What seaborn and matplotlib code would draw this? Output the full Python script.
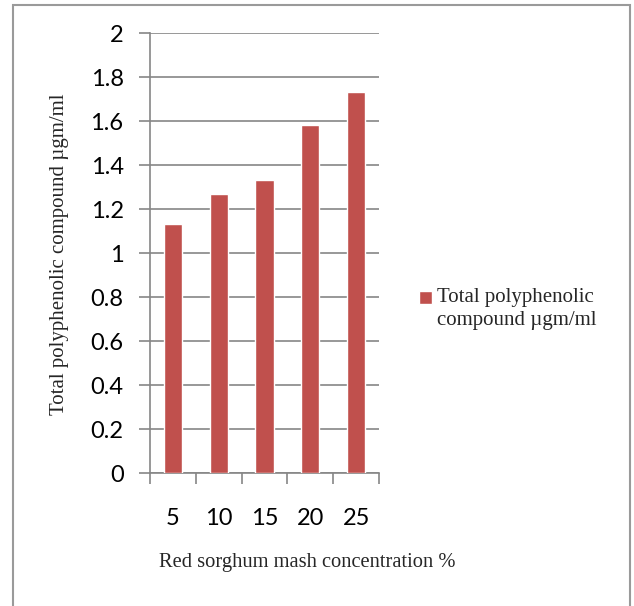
import matplotlib
matplotlib.use("Agg")
import matplotlib.pyplot as plt
import seaborn as sns
import pandas as pd
from matplotlib.patches import Rectangle
from matplotlib.container import BarContainer
from matplotlib.legend_handler import HandlerPatch, update_from_first_child

concentrations = ["5", "10", "15", "20", "25"]
values = [1.13, 1.27, 1.33, 1.58, 1.73]
y_ticks = [0, 0.2, 0.4, 0.6, 0.8, 1, 1.2, 1.4, 1.6, 1.8, 2]
y_tick_labels = ["0", "0.2", "0.4", "0.6", "0.8", "1", "1.2", "1.4", "1.6", "1.8", "2"]
series_name = "Total polyphenolic\ncompound \u00b5gm/ml"
x_label = "Red sorghum mash concentration %"
y_label = "Total polyphenolic compound \u00b5gm/ml"

sns.set_style("white")
plt.rcParams["font.family"] = ["Liberation Serif", "DejaVu Serif"]

df = pd.DataFrame({"conc": concentrations, "val": values})

W, H = 634, 606
fig = plt.figure(figsize=(W / 100, H / 100), dpi=100)
fig.patch.set_facecolor("white")
fig.patches.append(Rectangle((13 / W, -0.01), (630 - 13) / W, 1.01 - 5 / H,
                             transform=fig.transFigure, fill=False,
                             edgecolor="#9a9a9a", linewidth=1.5))

ax = fig.add_axes([150 / W, 1 - 473 / H, (379 - 150) / W, (473 - 33) / H])
bar_color = "#C0504D"
sns.barplot(data=df, x="conc", y="val", ax=ax, color=bar_color, width=0.4,
            saturation=1, label=series_name, zorder=3)

ax.set_ylim(0, 2)
ax.set_xlim(-0.5, 4.5)
ax.set_yticks(y_ticks)
ax.set_yticklabels(y_tick_labels)
ax.yaxis.grid(True, color="#868686", linewidth=1.2, zorder=0)
ax.set_axisbelow(True)
for s in ["top", "right"]:
    ax.spines[s].set_visible(False)
for s in ["left", "bottom"]:
    ax.spines[s].set_color("#868686")
    ax.spines[s].set_linewidth(1.2)

ax.set_xticks([-0.5, 0.5, 1.5, 2.5, 3.5, 4.5], minor=False)
ax.set_xticklabels([])
ax.set_xticks(range(len(concentrations)), minor=True)
ax.set_xticklabels(concentrations, minor=True)
ax.tick_params(axis="x", which="major", direction="out", length=8, width=1.2,
               color="#868686", bottom=True)
ax.tick_params(axis="x", which="minor", length=0, pad=25)
ax.tick_params(axis="y", direction="out", length=8, width=1.2, color="#868686",
               left=True, pad=11)
for lab in ax.get_yticklabels() + ax.get_xticklabels(minor=True):
    lab.set_fontfamily("Lato")
    lab.set_fontsize(17)
    lab.set_color("black")

ax.set_xlabel("")
ax.set_ylabel("")
fig.text(307 / W, 1 - 563 / H, x_label, ha="center", va="center", fontsize=14.8)
fig.text(60 / W, 1 - 254 / H, y_label, ha="center", va="center", rotation=90, fontsize=15)


def top_square(legend, orig_handle, xdescent, ydescent, width, height, fontsize):
    sq = width
    return Rectangle((-xdescent, -ydescent + height - sq - 0.02 * fontsize), sq, sq)


leg = ax.legend(loc="center left", bbox_to_anchor=(419 / W, 1 - 309 / H),
                bbox_transform=fig.transFigure, frameon=False, fontsize=15,
                handlelength=0.6, handleheight=2.4, handletextpad=0.25,
                borderpad=0, borderaxespad=0,
                handler_map={BarContainer: HandlerPatch(patch_func=top_square,
                                                        update_func=update_from_first_child)})
for t in leg.get_texts():
    t.set_linespacing(1.25)

fig.savefig("out.png", dpi=100, facecolor="white")
